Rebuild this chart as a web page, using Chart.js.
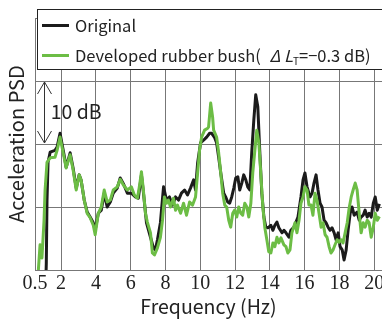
<!DOCTYPE html>
<html>
<head>
<meta charset="utf-8">
<script src="https://cdn.jsdelivr.net/npm/chart.js@4/dist/chart.umd.min.js"></script>
<style>
  body { margin: 0; background: #fff; overflow: hidden; }
  #wrap { position: relative; width: 382px; height: 320px; }
  #key {
    position: absolute; left: 37px; top: 9px; width: 360px; height: 59px;
    border: 1.5px solid #222; background: #fff;
    font-family: "Noto Sans CJK JP", "Noto Sans", sans-serif; font-size: 16.5px; color: #222;
  }
  .row { position: absolute; left: 0; height: 24px; line-height: 24px; white-space: nowrap; }
  .swatch { position: absolute; left: 4px; top: 11px; width: 27px; height: 3px; }
  .label { position: absolute; left: 37px; top: 0; }
  .label i { margin-left: 5px; }
  .label sub { font-size: 10px; vertical-align: -3px; }
</style>
</head>
<body>
<div id="wrap">
  <canvas id="psd" width="382" height="320"></canvas>
  <div id="key">
    <div class="row" style="top:3px"><span class="swatch" style="background:#1b1b1b"></span><span class="label">Original</span></div>
    <div class="row" style="top:33px"><span class="swatch" style="background:#6cbd45"></span><span class="label">Developed rubber bush( <i>Δ L</i><sub>T</sub>=−0.3 dB)</span></div>
  </div>
</div>
<script>
const xTicks = [0.5, 2, 4, 6, 8, 10, 12, 14, 16, 18, 20];

// original bush
const freqOriginal = [1.13, 1.15, 1.19, 1.25, 1.37, 1.65, 1.77, 1.94, 2.17, 2.29, 2.52, 2.69, 2.87, 3.04, 3.15, 3.33,
  3.50, 3.67, 3.85, 3.96, 4.14, 4.31, 4.48, 4.65, 4.83, 5.00, 5.23, 5.40, 5.58, 5.81, 6.04, 6.27, 6.44, 6.62, 6.73,
  6.91, 7.14, 7.31, 7.42, 7.54, 7.71, 7.89, 8.06, 8.23, 8.41, 8.58, 8.75, 8.92, 9.10, 9.27, 9.44, 9.62, 9.73, 9.85,
  10.02, 10.19, 10.37, 10.54, 10.66, 10.83, 10.94, 11.06, 11.18, 11.35, 11.46, 11.58, 11.69, 11.81, 11.93, 12.04,
  12.16, 12.27, 12.39, 12.50, 12.62, 12.73, 12.85, 12.96, 13.08, 13.19, 13.31, 13.42, 13.54, 13.66, 13.77, 13.89,
  14.06, 14.18, 14.29, 14.41, 14.52, 14.70, 14.81, 14.93, 15.10, 15.21, 15.39, 15.62, 15.79, 15.91, 16.02, 16.14,
  16.31, 16.43, 16.54, 16.66, 16.77, 16.89, 17.00, 17.12, 17.23, 17.35, 17.46, 17.58, 17.70, 17.81, 17.93, 18.04,
  18.16, 18.27, 18.39, 18.50, 18.62, 18.73, 18.85, 19.02, 19.14, 19.25, 19.37, 19.48, 19.60, 19.71, 19.83, 19.95,
  20.06, 20.18, 20.30];
const psdOriginal = [-1, 1.1, 11.0, 17.1, 18.7, 19.0, 19.5, 21.7, 18.3, 16.3, 18.6, 16.2, 13.0, 15.1, 14.3, 11.1,
  9.2, 8.4, 7.5, 6.3, 9.0, 9.5, 12.2, 10.0, 10.8, 12.2, 13.0, 14.6, 13.7, 12.2, 12.2, 11.6, 11.4, 15.1, 12.4,
  7.5, 5.2, 3.5, 3.2, 4.8, 7.5, 13.2, 11.1, 11.6, 10.3, 11.6, 11.1, 12.2, 12.7, 11.9, 13.0, 14.3, 12.7, 17.0,
  20.2, 20.6, 21.1, 21.7, 21.7, 21.0, 20.2, 17.9, 15.4, 12.2, 11.6, 10.8, 10.6, 11.6, 13.0, 14.6,
  14.8, 12.7, 13.8, 15.1, 14.3, 13.2, 12.7, 18.6, 23.8, 27.8, 25.9, 19.0, 12.2, 8.4, 6.8, 6.7,
  7.1, 6.3, 7.1, 7.6, 6.7, 5.9, 6.3, 5.9, 5.2, 6.3, 6.8, 8.4, 11.6, 14.3, 15.4, 13.2,
  11.6, 12.2, 13.8, 15.1, 12.7, 10.6, 10.0, 7.9, 7.5, 6.8, 6.3, 6.7, 5.9, 4.8, 5.9, 3.7,
  3.2, 1.6, 3.2, 6.3, 9.0, 10.0, 8.7, 9.2, 7.9, 8.4, 8.7, 9.5, 8.4, 9.0, 8.4, 10.6,
  11.6, 9.5, 10.5];

// developed rubber bush
const freqDeveloped = [0.67, 0.79, 0.90, 1.02, 1.08, 1.19, 1.37, 1.65, 1.77, 1.94, 2.17, 2.29, 2.52, 2.69, 2.87,
  3.04, 3.15, 3.33, 3.50, 3.67, 3.85, 3.96, 4.14, 4.31, 4.48, 4.65, 4.83, 5.00, 5.23, 5.40, 5.58, 5.81, 6.04,
  6.21, 6.39, 6.50, 6.62, 6.73, 6.85, 6.96, 7.14, 7.25, 7.37, 7.54, 7.71, 7.83, 7.94, 8.06, 8.17, 8.29, 8.46,
  8.58, 8.69, 8.87, 9.04, 9.21, 9.39, 9.56, 9.73, 9.85, 9.96, 10.08, 10.25, 10.43, 10.48, 10.60, 10.71, 10.77,
  10.94, 11.06, 11.18, 11.29, 11.41, 11.52, 11.64, 11.75, 11.87, 11.98, 12.10, 12.21, 12.33, 12.44, 12.56, 12.68,
  12.79, 12.91, 13.02, 13.14, 13.25, 13.37, 13.48, 13.60, 13.71, 13.83, 13.94, 14.06, 14.18, 14.29, 14.41, 14.52,
  14.64, 14.81, 14.93, 15.04, 15.16, 15.27, 15.45, 15.56, 15.68, 15.79, 15.91, 16.02, 16.14, 16.25, 16.37, 16.48,
  16.60, 16.71, 16.83, 16.95, 17.06, 17.18, 17.29, 17.41, 17.52, 17.64, 17.75, 17.87, 17.98, 18.10, 18.21, 18.33,
  18.45, 18.56, 18.68, 18.79, 18.91, 19.02, 19.14, 19.25, 19.37, 19.48, 19.60, 19.71, 19.83, 19.95, 20.06, 20.18,
  20.30];
const psdDeveloped = [-1, 4.0, 1.9, 7.9, 12.7, 17.1, 17.8, 17.9, 19.0, 21.1, 17.9, 16.2, 18.3, 15.9, 12.7,
  15.1, 14.3, 11.1, 9.0, 8.3, 7.1, 5.6, 9.0, 10.0, 12.7, 10.8, 11.1, 12.7, 13.2, 14.4, 13.5, 12.7, 13.2,
  11.9, 11.4, 13.2, 15.6, 12.7, 9.0, 7.6, 5.9, 2.7, 2.4, 3.5, 5.2, 7.9, 11.6, 10.6, 11.1, 10.0, 11.4,
  9.5, 10.3, 9.0, 10.6, 8.7, 10.8, 10.3, 11.6, 15.4, 19.0, 21.1, 22.2, 22.5, 22.7, 26.5, 24.3, 22.2,
  21.1, 18.6, 15.4, 12.2, 10.3, 10.0, 7.9, 6.8, 9.0, 9.5, 8.4, 10.0, 9.0, 8.7, 10.6, 10.0,
  8.4, 10.6, 15.4, 19.0, 22.2, 20.2, 15.4, 10.0, 6.8, 4.8, 2.9, 2.7, 4.3, 3.7, 5.2, 4.3,
  5.1, 4.0, 3.7, 2.7, 3.2, 5.9, 7.5, 5.9, 7.9, 10.6, 11.6, 13.2, 12.7, 10.3, 10.3, 8.7,
  12.2, 11.1, 9.0, 6.8, 7.5, 5.6, 5.2, 3.7, 2.7, 3.2, 4.0, 4.8, 4.4, 4.8, 4.3, 5.9,
  7.5, 9.8, 11.6, 12.7, 13.8, 12.7, 9.0, 5.9, 7.5, 6.8, 7.9, 7.5, 5.2, 6.8, 9.0, 7.9,
  8.5];

function toPoints(xs, ys) {
  return xs.map((x, i) => ({ x: x, y: ys[i] }));
}

// "10 dB" scale bar with arrowheads at both ends
const scaleBar = {
  id: 'scaleBar',
  afterDraw(chart) {
    const { ctx, scales: { x, y } } = chart;
    const px = Math.round(x.getPixelForValue(1.02)) + 0.5;
    const top = y.getPixelForValue(30);
    const bottom = y.getPixelForValue(20);
    ctx.save();
    ctx.strokeStyle = '#333';
    ctx.lineWidth = 1;
    ctx.beginPath();
    ctx.moveTo(px, top + 1);
    ctx.lineTo(px, bottom - 1);
    ctx.moveTo(px - 7, top + 13);
    ctx.lineTo(px, top + 1);
    ctx.lineTo(px + 7, top + 13);
    ctx.moveTo(px - 7, bottom - 13);
    ctx.lineTo(px, bottom - 1);
    ctx.lineTo(px + 7, bottom - 13);
    ctx.stroke();
    ctx.fillStyle = '#222';
    ctx.font = '19.5px "Noto Sans CJK JP"';
    ctx.textBaseline = 'middle';
    ctx.fillText('10 dB', x.getPixelForValue(1.4), y.getPixelForValue(25.2));
    ctx.restore();
  }
};

const ctx = document.getElementById('psd');
const chart = new Chart(ctx, {
  type: 'line',
  data: {
    datasets: [{
      label: 'Developed rubber bush',
      data: toPoints(freqDeveloped, psdDeveloped),
      borderColor: '#6cbd45',
      borderWidth: 3,
      borderJoinStyle: 'round',
      pointRadius: 0,
      tension: 0,
      clip: 0,
      order: 1
    }, {
      label: 'Original',
      data: toPoints(freqOriginal, psdOriginal),
      borderColor: '#1b1b1b',
      borderWidth: 3,
      borderJoinStyle: 'round',
      pointRadius: 0,
      tension: 0,
      clip: 0,
      order: 2
    }]
  },
  options: {
    responsive: false,
    animation: false,
    devicePixelRatio: 1,
    layout: { padding: { top: 18, left: 0, right: 0, bottom: 0 } },
    plugins: { legend: { display: false }, tooltip: { enabled: false } },
    scales: {
      x: {
        type: 'linear',
        min: 0.5,
        max: 20.45,
        afterBuildTicks: scale => { scale.ticks = xTicks.map(v => ({ value: v })); },
        afterFit: scale => {
          scale.height = 50;
          scale.paddingLeft = 0;
          scale.paddingRight = 0;
        },
        ticks: {
          autoSkip: false,
          maxRotation: 0,
          padding: 2,
          color: '#222',
          font: { family: 'Liberation Serif', size: 20 },
          callback: v => String(v)
        },
        grid: { color: '#777', drawTicks: false },
        border: { color: '#777' },
        title: {
          display: true,
          text: 'Frequency (Hz)',
          color: '#222',
          font: { family: 'Noto Sans CJK JP', size: 19.5 },
          padding: { top: 0, bottom: 2 }
        }
      },
      y: {
        min: 0,
        max: 40,
        afterFit: scale => { scale.width = 35; },
        ticks: { stepSize: 10, display: false },
        grid: { color: '#777', drawTicks: false },
        border: { color: '#777' },
        title: {
          display: true,
          text: 'Acceleration PSD',
          color: '#222',
          font: { family: 'Noto Sans CJK JP', size: 20 },
          padding: { top: 4, bottom: 0 }
        }
      }
    }
  },
  plugins: [scaleBar]
});
</script>
</body>
</html>
